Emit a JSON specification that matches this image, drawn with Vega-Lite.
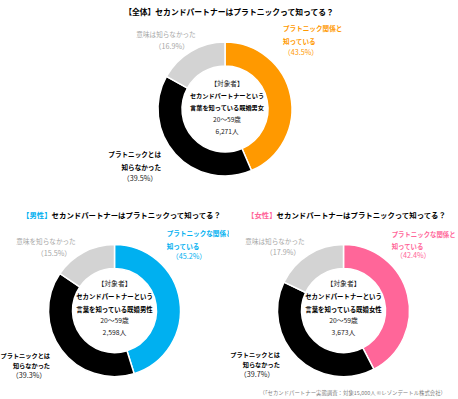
{
  "$schema": "https://vega.github.io/schema/vega-lite/v6.json",
  "padding": {"top": 9, "left": 0, "right": 0, "bottom": 0},
  "background": "white",
  "config": {
    "view": {"stroke": null},
    "font": "Noto Sans CJK JP",
    "text": {"lineBreak": "\n", "font": "Noto Sans CJK JP"},
    "title": {"font": "Noto Sans CJK JP", "fontWeight": "bold", "color": "#000000"}
  },
  "datasets": {
    "d": [
      {"panel": "all", "order": 1, "category": "know", "value": 43.5, "name": "プラトニック関係と\n知っている", "pct": "（43.5%）"},
      {"panel": "all", "order": 2, "category": "notknow", "value": 39.5, "name": "プラトニックとは\n知らなかった", "pct": "（39.5%）"},
      {"panel": "all", "order": 3, "category": "meaning", "value": 16.9, "name": "意味は知らなかった", "pct": "（16.9%）"},
      {"panel": "men", "order": 1, "category": "know", "value": 45.2, "name": "プラトニックな関係と\n知っている", "pct": "（45.2%）"},
      {"panel": "men", "order": 2, "category": "notknow", "value": 39.3, "name": "プラトニックとは\n知らなかった", "pct": "（39.3%）"},
      {"panel": "men", "order": 3, "category": "meaning", "value": 15.5, "name": "意味を知らなかった", "pct": "（15.5%）"},
      {"panel": "women", "order": 1, "category": "know", "value": 42.4, "name": "プラトニックな関係と\n知っている", "pct": "（42.4%）"},
      {"panel": "women", "order": 2, "category": "notknow", "value": 39.7, "name": "プラトニックとは\n知らなかった", "pct": "（39.7%）"},
      {"panel": "women", "order": 3, "category": "meaning", "value": 17.9, "name": "意味は知らなかった", "pct": "（17.9%）"}
    ],
    "c": [
      {"panel": "all", "head": "【対象者】", "bold": "セカンドパートナーという\n言葉を知っている既婚男女", "regular": "20〜59歳\n6,271人", "tag": "【全体】", "question": "セカンドパートナーはプラトニックって知ってる？"},
      {"panel": "men", "head": "【対象者】", "bold": "セカンドパートナーという\n言葉を知っている既婚男性", "regular": "20〜59歳\n2,598人", "tag": "【男性】", "question": "セカンドパートナーはプラトニックって知ってる？"},
      {"panel": "women", "head": "【対象者】", "bold": "セカンドパートナーという\n言葉を知っている既婚女性", "regular": "20〜59歳\n3,673人", "tag": "【女性】", "question": "セカンドパートナーはプラトニックって知ってる？"}
    ]
  },
  "title": {"text": "（「セカンドパートナー実態調査：対象15,000人 ©レゾンデートル株式会社）", "orient": "bottom", "anchor": "end", "frame": "bounds", "fontSize": 5.4, "fontWeight": "normal", "color": "#7F7F7F", "offset": -8, "dx": -12},
  "spacing": 13.6,
  "resolve": {"scale": {"color": "independent", "theta": "independent"}},
  "vconcat": [
    {
      "width": 450,
      "height": 178,
      "title": {"text": "【全体】セカンドパートナーはプラトニックって知ってる？", "fontSize": 7.8, "offset": 3, "anchor": "middle", "frame": "group", "dx": 4},
      "data": {"name": "d"},
      "transform": [
        {"filter": "datum.panel === 'all'"},
        {"stack": "value", "groupby": [], "sort": [{"field": "order", "order": "ascending"}], "as": ["v0", "v1"]}
      ],
      "layer": [
        {"mark": {"type": "arc", "outerRadius": 67, "innerRadius": 43, "stroke": "#ffffff", "strokeWidth": 1.5},
         "encoding": {"theta": {"field": "v1", "type": "quantitative", "stack": null, "scale": {"nice": false, "zero": true}}, "theta2": {"field": "v0"},
           "color": {"field": "category", "type": "nominal", "scale": {"domain": ["know", "notknow", "meaning"], "range": ["#FF9900", "#000000", "#D3D3D3"]}, "legend": null}}},
        {"data": {"name": "c"}, "transform": [{"filter": "datum.panel === 'all'"}],
         "mark": {"type": "text", "fontSize": 6.6, "baseline": "middle", "align": "center", "color": "#222222", "dx": 2, "dy": -25.5},
         "encoding": {"text": {"field": "head", "type": "nominal"}}},
        {"data": {"name": "c"}, "transform": [{"filter": "datum.panel === 'all'"}],
         "mark": {"type": "text", "fontSize": 6.2, "lineHeight": 12.2, "baseline": "middle", "align": "center", "color": "#000000", "fontWeight": "bold", "dx": 2, "dy": -13},
         "encoding": {"text": {"field": "bold", "type": "nominal"}}},
        {"data": {"name": "c"}, "transform": [{"filter": "datum.panel === 'all'"}],
         "mark": {"type": "text", "fontSize": 6.6, "lineHeight": 12.2, "baseline": "middle", "align": "center", "color": "#222222", "dx": 2, "dy": 11},
         "encoding": {"text": {"field": "regular", "type": "nominal"}}},
        {"transform": [{"filter": "datum.category === 'know'"}],
         "mark": {"type": "text", "radius": 66, "align": "left", "baseline": "middle", "dx": 58, "dy": -13.7, "fontSize": 6.6, "fontWeight": "bold", "color": "#FF9900", "lineHeight": 12.4},
         "encoding": {"theta": {"field": "v0", "type": "quantitative", "stack": null}, "text": {"field": "name", "type": "nominal"}}},
        {"transform": [{"filter": "datum.category === 'know'"}],
         "mark": {"type": "text", "radius": 66, "align": "center", "baseline": "middle", "dx": 76, "dy": 9.7, "fontSize": 7.2, "color": "#FF9900"},
         "encoding": {"theta": {"field": "v0", "type": "quantitative", "stack": null}, "text": {"field": "pct", "type": "nominal"}}},
        {"transform": [{"filter": "datum.category === 'notknow'"}],
         "mark": {"type": "text", "radius": 66, "align": "right", "baseline": "middle", "dx": -90, "dy": -14.5, "fontSize": 6.6, "fontWeight": "bold", "color": "#000000", "lineHeight": 13},
         "encoding": {"theta": {"field": "v0", "type": "quantitative", "stack": null}, "text": {"field": "name", "type": "nominal"}}},
        {"transform": [{"filter": "datum.category === 'notknow'"}],
         "mark": {"type": "text", "radius": 66, "align": "center", "baseline": "middle", "dx": -111, "dy": 9.4, "fontSize": 7.2, "color": "#222222"},
         "encoding": {"theta": {"field": "v0", "type": "quantitative", "stack": null}, "text": {"field": "pct", "type": "nominal"}}},
        {"transform": [{"filter": "datum.category === 'meaning'"}],
         "mark": {"type": "text", "radius": 66, "align": "center", "baseline": "middle", "dx": -1.3, "dy": -41.9, "fontSize": 6.6, "color": "#A6A6A6"},
         "encoding": {"theta": {"field": "v0", "type": "quantitative", "stack": null}, "text": {"field": "name", "type": "nominal"}}},
        {"transform": [{"filter": "datum.category === 'meaning'"}],
         "mark": {"type": "text", "radius": 66, "align": "center", "baseline": "middle", "dx": 4.4, "dy": -29.6, "fontSize": 7.2, "color": "#A6A6A6"},
         "encoding": {"theta": {"field": "v0", "type": "quantitative", "stack": null}, "text": {"field": "pct", "type": "nominal"}}}
      ]
    },
    {
      "spacing": 0,
      "resolve": {"scale": {"color": "independent", "theta": "independent"}},
      "hconcat": [
        {
          "width": 229,
          "height": 176,
          "data": {"name": "d"},
          "transform": [
            {"filter": "datum.panel === 'men'"},
            {"stack": "value", "groupby": [], "sort": [{"field": "order", "order": "ascending"}], "as": ["v0", "v1"]}
          ],
          "layer": [
            {"mark": {"type": "arc", "outerRadius": 66, "innerRadius": 42, "stroke": "#ffffff", "strokeWidth": 1.5},
             "encoding": {"theta": {"field": "v1", "type": "quantitative", "stack": null, "scale": {"nice": false, "zero": true}}, "theta2": {"field": "v0"},
               "color": {"field": "category", "type": "nominal", "scale": {"domain": ["know", "notknow", "meaning"], "range": ["#00B0F0", "#000000", "#D3D3D3"]}, "legend": null}}},
            {"data": {"name": "c"}, "transform": [{"filter": "datum.panel === 'men'"}],
             "mark": {"type": "text", "fontSize": 7.4, "baseline": "middle", "align": "right", "fontWeight": "bold", "color": "#00B0F0", "dx": -62.9, "dy": -94.7},
             "encoding": {"text": {"field": "tag", "type": "nominal"}}},
            {"data": {"name": "c"}, "transform": [{"filter": "datum.panel === 'men'"}],
             "mark": {"type": "text", "fontSize": 7.4, "baseline": "middle", "align": "left", "fontWeight": "bold", "color": "#000000", "dx": -62.9, "dy": -94.7},
             "encoding": {"text": {"field": "question", "type": "nominal"}}},
            {"data": {"name": "c"}, "transform": [{"filter": "datum.panel === 'men'"}],
             "mark": {"type": "text", "fontSize": 6.8, "baseline": "middle", "align": "center", "color": "#222222", "dy": -26.7},
             "encoding": {"text": {"field": "head", "type": "nominal"}}},
            {"data": {"name": "c"}, "transform": [{"filter": "datum.panel === 'men'"}],
             "mark": {"type": "text", "fontSize": 6.4, "lineHeight": 12.5, "baseline": "middle", "align": "center", "color": "#000000", "fontWeight": "bold", "dy": -13.3},
             "encoding": {"text": {"field": "bold", "type": "nominal"}}},
            {"data": {"name": "c"}, "transform": [{"filter": "datum.panel === 'men'"}],
             "mark": {"type": "text", "fontSize": 6.8, "lineHeight": 11.5, "baseline": "middle", "align": "center", "color": "#222222", "dy": 10.7},
             "encoding": {"text": {"field": "regular", "type": "nominal"}}},
            {"transform": [{"filter": "datum.category === 'know'"}],
             "mark": {"type": "text", "radius": 66, "align": "left", "baseline": "middle", "dx": 52.2, "dy": -11, "fontSize": 6.6, "fontWeight": "bold", "color": "#00B0F0", "lineHeight": 13, "clip": true},
             "encoding": {"theta": {"field": "v0", "type": "quantitative", "stack": null}, "text": {"field": "name", "type": "nominal"}}},
            {"transform": [{"filter": "datum.category === 'know'"}],
             "mark": {"type": "text", "radius": 66, "align": "center", "baseline": "middle", "dx": 74.5, "dy": 12.3, "fontSize": 7.2, "color": "#00B0F0"},
             "encoding": {"theta": {"field": "v0", "type": "quantitative", "stack": null}, "text": {"field": "pct", "type": "nominal"}}},
            {"transform": [{"filter": "datum.category === 'notknow'"}],
             "mark": {"type": "text", "radius": 66, "align": "right", "baseline": "middle", "dx": -84.1, "dy": -18, "fontSize": 6.2, "fontWeight": "bold", "color": "#000000", "lineHeight": 10.5},
             "encoding": {"theta": {"field": "v0", "type": "quantitative", "stack": null}, "text": {"field": "name", "type": "nominal"}}},
            {"transform": [{"filter": "datum.category === 'notknow'"}],
             "mark": {"type": "text", "radius": 66, "align": "center", "baseline": "middle", "dx": -105.1, "dy": 2, "fontSize": 7.2, "color": "#222222"},
             "encoding": {"theta": {"field": "v0", "type": "quantitative", "stack": null}, "text": {"field": "pct", "type": "nominal"}}},
            {"transform": [{"filter": "datum.category === 'meaning'"}],
             "mark": {"type": "text", "radius": 66, "align": "center", "baseline": "middle", "dx": -13.9, "dy": -31.2, "fontSize": 6.6, "color": "#A6A6A6"},
             "encoding": {"theta": {"field": "v0", "type": "quantitative", "stack": null}, "text": {"field": "name", "type": "nominal"}}},
            {"transform": [{"filter": "datum.category === 'meaning'"}],
             "mark": {"type": "text", "radius": 66, "align": "center", "baseline": "middle", "dx": -5.9, "dy": -19.6, "fontSize": 7.2, "color": "#A6A6A6"},
             "encoding": {"theta": {"field": "v0", "type": "quantitative", "stack": null}, "text": {"field": "pct", "type": "nominal"}}}
          ]
        },
        {
          "width": 229,
          "height": 176,
          "data": {"name": "d"},
          "transform": [
            {"filter": "datum.panel === 'women'"},
            {"stack": "value", "groupby": [], "sort": [{"field": "order", "order": "ascending"}], "as": ["v0", "v1"]}
          ],
          "layer": [
            {"mark": {"type": "arc", "outerRadius": 66, "innerRadius": 42, "stroke": "#ffffff", "strokeWidth": 1.5},
             "encoding": {"theta": {"field": "v1", "type": "quantitative", "stack": null, "scale": {"nice": false, "zero": true}}, "theta2": {"field": "v0"},
               "color": {"field": "category", "type": "nominal", "scale": {"domain": ["know", "notknow", "meaning"], "range": ["#FF6699", "#000000", "#D3D3D3"]}, "legend": null}}},
            {"data": {"name": "c"}, "transform": [{"filter": "datum.panel === 'women'"}],
             "mark": {"type": "text", "fontSize": 7.4, "baseline": "middle", "align": "right", "fontWeight": "bold", "color": "#FF6699", "dx": -66.9, "dy": -94.7},
             "encoding": {"text": {"field": "tag", "type": "nominal"}}},
            {"data": {"name": "c"}, "transform": [{"filter": "datum.panel === 'women'"}],
             "mark": {"type": "text", "fontSize": 7.4, "baseline": "middle", "align": "left", "fontWeight": "bold", "color": "#000000", "dx": -66.9, "dy": -94.7},
             "encoding": {"text": {"field": "question", "type": "nominal"}}},
            {"data": {"name": "c"}, "transform": [{"filter": "datum.panel === 'women'"}],
             "mark": {"type": "text", "fontSize": 6.8, "baseline": "middle", "align": "center", "color": "#222222", "dy": -26.7},
             "encoding": {"text": {"field": "head", "type": "nominal"}}},
            {"data": {"name": "c"}, "transform": [{"filter": "datum.panel === 'women'"}],
             "mark": {"type": "text", "fontSize": 6.4, "lineHeight": 12.5, "baseline": "middle", "align": "center", "color": "#000000", "fontWeight": "bold", "dy": -13.3},
             "encoding": {"text": {"field": "bold", "type": "nominal"}}},
            {"data": {"name": "c"}, "transform": [{"filter": "datum.panel === 'women'"}],
             "mark": {"type": "text", "fontSize": 6.8, "lineHeight": 11.5, "baseline": "middle", "align": "center", "color": "#222222", "dy": 10.7},
             "encoding": {"text": {"field": "regular", "type": "nominal"}}},
            {"transform": [{"filter": "datum.category === 'know'"}],
             "mark": {"type": "text", "radius": 66, "align": "left", "baseline": "middle", "dx": 48.2, "dy": -10, "fontSize": 6.4, "fontWeight": "bold", "color": "#FF6699", "lineHeight": 12},
             "encoding": {"theta": {"field": "v0", "type": "quantitative", "stack": null}, "text": {"field": "name", "type": "nominal"}}},
            {"transform": [{"filter": "datum.category === 'know'"}],
             "mark": {"type": "text", "radius": 66, "align": "center", "baseline": "middle", "dx": 69.8, "dy": 11.3, "fontSize": 7.2, "color": "#FF6699"},
             "encoding": {"theta": {"field": "v0", "type": "quantitative", "stack": null}, "text": {"field": "pct", "type": "nominal"}}},
            {"transform": [{"filter": "datum.category === 'notknow'"}],
             "mark": {"type": "text", "radius": 66, "align": "right", "baseline": "middle", "dx": -94, "dy": -14.6, "fontSize": 6.2, "fontWeight": "bold", "color": "#000000", "lineHeight": 10},
             "encoding": {"theta": {"field": "v0", "type": "quantitative", "stack": null}, "text": {"field": "name", "type": "nominal"}}},
            {"transform": [{"filter": "datum.category === 'notknow'"}],
             "mark": {"type": "text", "radius": 66, "align": "center", "baseline": "middle", "dx": -116.8, "dy": 5.4, "fontSize": 7.2, "color": "#222222"},
             "encoding": {"theta": {"field": "v0", "type": "quantitative", "stack": null}, "text": {"field": "pct", "type": "nominal"}}},
            {"transform": [{"filter": "datum.category === 'meaning'"}],
             "mark": {"type": "text", "radius": 66, "align": "center", "baseline": "middle", "dx": -9, "dy": -39.8, "fontSize": 6.6, "color": "#A6A6A6"},
             "encoding": {"theta": {"field": "v0", "type": "quantitative", "stack": null}, "text": {"field": "name", "type": "nominal"}}},
            {"transform": [{"filter": "datum.category === 'meaning'"}],
             "mark": {"type": "text", "radius": 66, "align": "center", "baseline": "middle", "dx": -1, "dy": -28.8, "fontSize": 7.2, "color": "#A6A6A6"},
             "encoding": {"theta": {"field": "v0", "type": "quantitative", "stack": null}, "text": {"field": "pct", "type": "nominal"}}}
          ]
        }
      ]
    }
  ]
}
